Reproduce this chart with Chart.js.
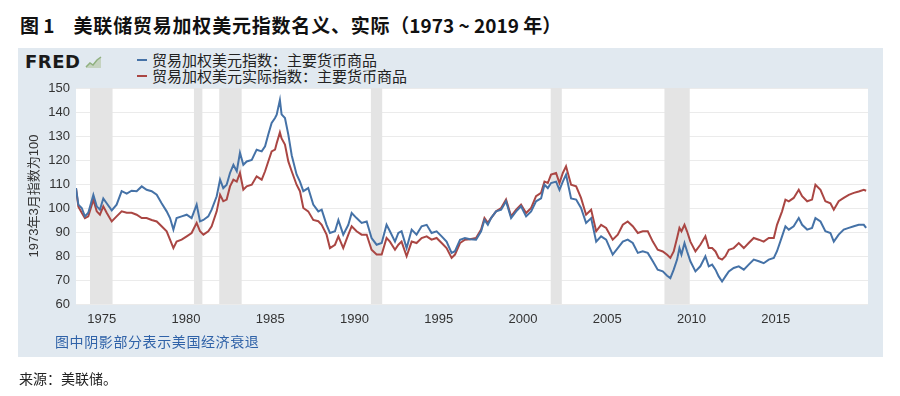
<!DOCTYPE html>
<html>
<head>
<meta charset="utf-8">
<script src="https://cdn.jsdelivr.net/npm/chart.js@4.4.1/dist/chart.umd.min.js"></script>
<style>
  body { margin: 0; background: #fff; width: 900px; height: 396px; position: relative; overflow: hidden;
         font-family: "Liberation Sans", "Noto Sans CJK SC", sans-serif; }
  #title { position: absolute; left: 20px; top: 13px; font: bold 19px/24px "Noto Sans CJK SC", sans-serif; color: #111; white-space: pre; }
  #title .cn { letter-spacing: 0.8px; }
  #panel { position: absolute; left: 18px; top: 48px; width: 865px; height: 309px; background: #e1e9f0; }
  #chart { position: absolute; left: 18px; top: 48px; }
  #logo { position: absolute; left: 25px; top: 51px; font: 900 18px/22px "DejaVu Sans", sans-serif; color: #1a1a1a; letter-spacing: 0.5px; }
  #logo svg { position: absolute; left: 60px; top: 4px; }
  .leg { position: absolute; left: 152px; font: 15px/16px "Noto Sans CJK SC", sans-serif; color: #222; white-space: nowrap; }
  .leg i { position: absolute; left: -15px; top: 7px; width: 10px; height: 2px; }
  #note { position: absolute; left: 55px; top: 333px; font: 14px/16px "Noto Sans CJK SC", sans-serif; color: #2f62a8; letter-spacing: 0.6px; }
  #source { position: absolute; left: 19px; top: 370px; font: 14px/16px "Noto Sans CJK SC", sans-serif; color: #222; }
</style>
</head>
<body>
<div id="title">图 1　<span class="cn">美联储贸易加权美元指数名义、实际</span>（1973 ~ 2019 年）</div>
<div id="panel"></div>
<div id="logo">FRED<svg width="18" height="14" viewBox="0 0 18 14"><path d="M1 12 L5 8 L8 10 L12 5 L16 2 L16 13 L1 13 Z" fill="#c5d3c0"/><path d="M1 12 L5 8 L8 10 L12 5 L16 2" stroke="#8fb07f" stroke-width="1.5" fill="none"/></svg></div>
<div class="leg" style="top:52px"><i style="background:#4572a7"></i>贸易加权美元指数：主要货币商品</div>
<div class="leg" style="top:68px"><i style="background:#aa4643"></i>贸易加权美元实际指数：主要货币商品</div>
<canvas id="chart" width="865" height="309"></canvas>
<div id="note">图中阴影部分表示美国经济衰退</div>
<div id="source">来源：美联储。</div>

<script>
// decimal years of the readings (Jan 1973 = 1973.0)
const years = [
  1973.00, 1973.14, 1973.34, 1973.53, 1973.73, 1974.03, 1974.23, 1974.42, 1974.62, 1974.82,
  1975.12, 1975.41, 1975.71, 1976.01, 1976.30, 1976.60, 1976.90, 1977.19, 1977.49, 1977.79,
  1978.08, 1978.38, 1978.58, 1978.78, 1978.97, 1979.27, 1979.57, 1979.86, 1980.16, 1980.36,
  1980.56, 1980.85, 1981.05, 1981.35, 1981.55, 1981.74, 1981.94, 1982.14, 1982.34, 1982.54,
  1982.73, 1982.93, 1983.13, 1983.43, 1983.72, 1984.02, 1984.22, 1984.41, 1984.61, 1984.81,
  1984.91, 1985.10, 1985.20, 1985.40, 1985.60, 1985.80, 1986.09, 1986.29, 1986.49, 1986.78,
  1987.08, 1987.38, 1987.58, 1987.87, 1988.07, 1988.37, 1988.57, 1988.86, 1989.16, 1989.36,
  1989.65, 1989.95, 1990.25, 1990.54, 1990.84, 1991.14, 1991.43, 1991.63, 1991.93, 1992.13,
  1992.32, 1992.62, 1992.92, 1993.21, 1993.51, 1993.81, 1994.10, 1994.40, 1994.70, 1994.99,
  1995.29, 1995.49, 1995.79, 1996.08, 1996.38, 1996.74, 1997.04, 1997.24, 1997.44, 1997.63,
  1997.93, 1998.23, 1998.52, 1998.82, 1999.12, 1999.41, 1999.71, 2000.01, 2000.30, 2000.60,
  2000.80, 2001.00, 2001.19, 2001.49, 2001.69, 2001.89, 2002.08, 2002.38, 2002.68, 2002.97,
  2003.27, 2003.57, 2003.87, 2004.16, 2004.46, 2004.85, 2005.15, 2005.45, 2005.74, 2006.04,
  2006.34, 2006.63, 2006.93, 2007.23, 2007.52, 2007.82, 2008.08, 2008.27, 2008.47, 2008.67,
  2008.81, 2008.93, 2009.11, 2009.26, 2009.46, 2009.76, 2010.05, 2010.35, 2010.55, 2010.75,
  2010.95, 2011.14, 2011.34, 2011.54, 2011.74, 2012.03, 2012.33, 2012.63, 2012.92, 2013.22,
  2013.52, 2013.81, 2014.11, 2014.41, 2014.60, 2014.90, 2015.10, 2015.30, 2015.59, 2015.89,
  2016.09, 2016.39, 2016.68, 2016.88, 2017.18, 2017.47, 2017.77, 2017.97, 2018.26, 2018.56,
  2018.86, 2019.16, 2019.45, 2019.75, 2019.89
];

// 贸易加权美元指数：主要货币商品 (nominal)
const nominalIndex = [
  108.3, 101.4, 100.0, 96.5, 98.0, 105.5, 100.7, 99.3, 104.0, 102.0,
  99.0, 101.4, 107.0, 106.0, 107.2, 107.0, 109.0, 107.6, 107.0, 105.5,
  102.0, 98.6, 95.8, 91.0, 95.8, 96.5, 97.2, 95.8, 101.4, 94.4,
  95.0, 96.5, 99.3, 104.9, 111.8, 108.3, 109.7, 114.6, 118.0, 115.3,
  123.0, 118.0, 119.4, 120.0, 124.3, 123.6, 125.7, 130.6, 135.4, 137.5,
  138.9, 145.0, 139.0, 137.5, 130.6, 122.0, 114.0, 111.0, 107.0, 108.3,
  101.4, 98.6, 99.3, 93.0, 89.6, 90.3, 95.0, 88.9, 93.0, 97.9,
  95.8, 93.8, 94.4, 87.5, 84.7, 85.4, 93.0, 90.3, 86.0, 89.6,
  90.3, 83.3, 91.0, 88.9, 92.4, 93.0, 89.6, 90.3, 88.2, 86.0,
  81.3, 82.0, 86.8, 87.5, 87.0, 86.8, 90.3, 95.0, 93.0, 95.8,
  98.6, 99.3, 102.8, 95.8, 98.6, 100.7, 96.5, 98.6, 102.8, 104.0,
  109.7, 108.3, 110.4, 111.0, 107.6, 111.0, 113.9, 104.0, 103.5, 100.0,
  93.8, 95.8, 86.0, 88.2, 86.8, 80.6, 83.3, 86.0, 86.8, 85.4,
  81.3, 82.0, 81.3, 77.8, 74.3, 73.6, 71.8, 70.8, 74.3, 78.5,
  83.3, 80.6, 85.4, 82.0, 77.8, 73.6, 75.7, 79.9, 75.7, 76.4,
  74.3, 71.5, 69.4, 71.5, 73.6, 75.0, 75.7, 74.3, 76.4, 78.5,
  77.8, 77.0, 78.5, 79.2, 82.0, 88.2, 92.4, 91.0, 92.4, 95.8,
  93.0, 91.0, 91.7, 95.8, 94.4, 90.3, 89.6, 86.0, 88.9, 91.0,
  91.7, 92.4, 93.0, 93.0, 91.7
];

// 贸易加权美元实际指数：主要货币商品 (real)
const realIndex = [
  108.3, 100.5, 98.0, 95.8, 96.5, 103.5, 98.6, 97.2, 100.7, 98.0,
  94.4, 96.5, 98.6, 98.0, 98.0, 97.2, 95.8, 95.8, 95.0, 94.4,
  92.4, 90.3, 86.8, 83.3, 86.0, 86.8, 88.2, 89.6, 93.8, 90.3,
  88.9, 90.3, 92.4, 98.6, 105.5, 102.8, 103.5, 109.0, 111.8, 111.0,
  114.6, 107.6, 109.0, 109.7, 113.2, 111.8, 115.3, 119.4, 123.6, 124.3,
  127.0, 131.5, 129.0, 126.4, 119.4, 115.3, 109.7, 107.0, 100.0, 98.6,
  95.0, 94.5, 93.0, 88.9, 83.3, 84.7, 88.2, 83.3, 88.9, 92.4,
  90.3, 88.9, 88.9, 82.6, 80.6, 80.6, 87.5, 86.0, 82.6, 84.7,
  86.0, 79.9, 86.0, 85.4, 87.5, 88.2, 86.8, 87.5, 85.4, 83.3,
  79.2, 80.6, 85.4, 86.8, 87.0, 87.5, 91.0, 95.8, 93.8, 95.8,
  98.6, 100.0, 103.5, 96.5, 99.3, 101.4, 97.9, 100.0, 104.9, 106.3,
  111.0, 110.4, 113.9, 114.6, 110.4, 114.6, 117.4, 109.7, 109.0, 104.2,
  97.2, 99.3, 90.3, 93.0, 91.7, 86.8, 88.9, 93.0, 94.4, 92.4,
  89.6, 90.3, 90.3, 86.0, 82.6, 81.9, 80.5, 79.2, 81.9, 87.5,
  91.7, 90.3, 93.0, 90.3, 86.0, 81.9, 84.7, 88.2, 83.3, 83.3,
  81.9, 79.2, 78.5, 79.9, 82.6, 83.3, 85.4, 83.3, 85.4, 87.5,
  86.8, 86.0, 87.5, 87.5, 93.0, 98.6, 103.5, 102.8, 104.2, 107.6,
  104.9, 102.8, 103.5, 109.7, 107.6, 102.8, 102.0, 99.3, 102.8, 104.2,
  105.5, 106.3, 106.9, 107.6, 107.2
];

// US recessions (start, end) in decimal years
const recessions = [
  [1973.83, 1975.17], [1980.0, 1980.5], [1981.5, 1982.83],
  [1990.5, 1991.17], [2001.17, 2001.83], [2007.92, 2009.42]
];

const tickYears = [1975, 1980, 1985, 1990, 1995, 2000, 2005, 2010, 2015];
const tickShift = 0.47; // labels sit a little left of Jan 1 in the reference

const plotBg = {
  id: 'plotBg',
  beforeDraw(chart) {
    const { ctx, chartArea: a } = chart;
    ctx.save();
    ctx.fillStyle = '#ffffff';
    ctx.fillRect(a.left, a.top, a.right - a.left, a.bottom - a.top);
    ctx.restore();
  }
};

const recessionBands = {
  id: 'recessionBands',
  beforeDatasetsDraw(chart) {
    const { ctx, chartArea: a, scales: { x } } = chart;
    ctx.save();
    ctx.fillStyle = '#e4e4e4';
    recessions.forEach(([s, e]) => {
      const x0 = x.getPixelForValue(s);
      const x1 = x.getPixelForValue(e);
      ctx.fillRect(x0, a.top, x1 - x0, a.bottom - a.top);
    });
    ctx.restore();
  }
};

const toPoints = (vals) => years.map((t, i) => ({ x: t, y: vals[i] }));

new Chart(document.getElementById('chart'), {
  type: 'line',
  data: {
    datasets: [{
      label: '贸易加权美元指数：主要货币商品',
      data: toPoints(nominalIndex),
      borderColor: '#4572a7',
      borderWidth: 2,
      pointRadius: 0,
      tension: 0
    }, {
      label: '贸易加权美元实际指数：主要货币商品',
      data: toPoints(realIndex),
      borderColor: '#aa4643',
      borderWidth: 2,
      pointRadius: 0,
      tension: 0
    }]
  },
  options: {
    responsive: false,
    animation: false,
    layout: { padding: { top: 40, right: 15, bottom: 23, left: 0 } },
    plugins: { legend: { display: false }, tooltip: { enabled: false } },
    scales: {
      x: {
        type: 'linear',
        min: 1973,
        max: 2020,
        grid: { display: false },
        border: { display: false },
        afterBuildTicks: (scale) => {
          scale.ticks = tickYears.map(y => ({ value: y - tickShift }));
        },
        afterFit: (scale) => { scale.height = 30; },
        ticks: {
          autoSkip: false,
          maxRotation: 0,
          padding: 0,
          color: '#333',
          font: { family: 'Liberation Sans', size: 13 },
          callback: (v, i) => String(tickYears[i])
        }
      },
      y: {
        min: 60,
        max: 150,
        grid: { color: '#ebebeb', drawTicks: false },
        border: { display: false },
        afterFit: (scale) => { scale.width = 58; },
        ticks: {
          stepSize: 10,
          padding: 6,
          color: '#333',
          font: { family: 'Liberation Sans', size: 13 }
        },
        title: {
          display: true,
          text: '1973年3月指数为100',
          color: '#333',
          padding: { top: 9, bottom: 0 },
          font: { family: '"Liberation Sans", "Noto Sans CJK SC"', size: 13 }
        }
      }
    }
  },
  plugins: [plotBg, recessionBands]
});
</script>
</body>
</html>
